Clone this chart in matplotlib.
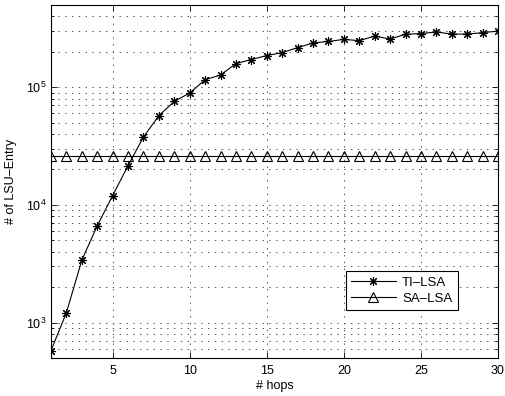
import matplotlib
matplotlib.use("Agg")
import matplotlib.pyplot as plt
from matplotlib.ticker import LogLocator, NullFormatter, FixedLocator

plt.rcParams['font.family'] = ['Liberation Sans', 'DejaVu Sans']

hops = list(range(1, 31))
ti_lsa = [578, 1215, 3390, 6650, 12000, 21600, 37800, 57400, 75900, 89300,
          116000, 127000, 159000, 172000, 186000, 197000, 217000, 238000, 245000, 255000,
          249000, 272000, 257000, 282000, 286000, 295000, 283000, 283000, 291000, 300000]
sa_lsa = [26000] * 30
labels = ['TI\u2013LSA', 'SA\u2013LSA']
xticks = [5, 10, 15, 20, 25, 30]

fig = plt.figure(figsize=(5.06, 3.96), dpi=100)
ax = fig.add_axes([51/506, 1-358/396, 447/506, 353/396])

ax.plot(hops, ti_lsa, color='k', lw=0.8, marker=(8, 2, 0), ms=6.5, mew=0.8,
        label=labels[0], zorder=3)
ax.plot(hops, sa_lsa, color='k', lw=0.8, marker='^', ms=6.5, mew=0.8,
        mfc='none', label=labels[1], zorder=3)

ax.set_yscale('log')
ax.set_xlim(1, 30)
ax.set_ylim(500, 5e5)
ax.xaxis.set_major_locator(FixedLocator(xticks))
ax.yaxis.set_minor_locator(LogLocator(base=10, subs=range(2, 10)))
ax.yaxis.set_minor_formatter(NullFormatter())

gstyle = dict(linestyle=(0, (1.5, 5.5)), color='0.35', lw=0.7)
ax.grid(True, which='major', axis='both', **gstyle)
ax.grid(True, which='minor', axis='y', **gstyle)

ax.tick_params(which='both', direction='in', top=True, right=True, labelsize=9,
               width=0.6)
ax.tick_params(which='major', length=4)
ax.tick_params(which='minor', length=2.5)
ax.tick_params(axis='x', pad=5)
for s in ax.spines.values():
    s.set_linewidth(0.8)

ax.set_xlabel('# hops', fontsize=9, labelpad=2)
ax.set_ylabel('# of LSU\u2013Entry', fontsize=9, labelpad=6)

leg = ax.legend(loc='upper right', bbox_to_anchor=(0.910, 0.246), borderaxespad=0,
                fontsize=9.5, handlelength=3.4, fancybox=False, edgecolor='k',
                framealpha=1, borderpad=0.4, labelspacing=0.3, handletextpad=0.5)
leg.get_frame().set_linewidth(0.8)

fig.savefig('out.png', dpi=100)
